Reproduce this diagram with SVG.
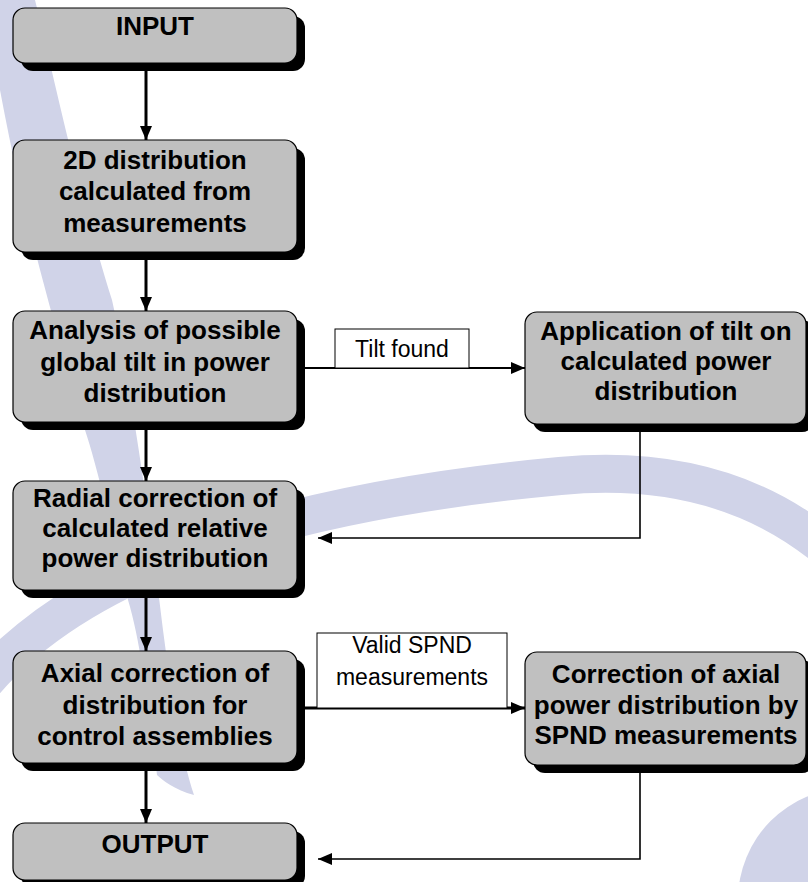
<svg xmlns="http://www.w3.org/2000/svg" width="808" height="882" viewBox="0 0 808 882">
<style>
.bg{fill:#d0d3e8;stroke:none}
.bgs{fill:none;stroke:#d0d3e8;stroke-width:38}
.sh{fill:#000}
.bx{fill:#c0c0c0;stroke:#000;stroke-width:1.2}
.t{font-family:"Liberation Sans",Arial,sans-serif;font-weight:bold;font-size:26px;fill:#000;text-anchor:middle}
.lt{font-family:"Liberation Sans",Arial,sans-serif;font-size:23px;fill:#000;text-anchor:middle}
.lb{fill:#fff;stroke:#000;stroke-width:1}
.c{fill:none;stroke:#000}
</style>
<defs>
<marker id="ah" markerUnits="userSpaceOnUse" markerWidth="14" markerHeight="14" viewBox="0 0 14 14" refX="14" refY="7" orient="auto">
<path d="M0,1 L14,7 L0,13 Z" fill="#000"/>
</marker>
</defs>
<rect width="808" height="882" fill="#fff"/>
<g id="background">
<path class="bg" d="M-25,0 L35,0 C50,60 80,200 112,300 C130,380 150,520 163,630 C172,700 182,760 194,795 C175,790 162,780 157,775 C148,700 140,640 128,600 C110,520 95,460 85,430 C60,340 30,250 0,90 Z"/>
<path class="bgs" d="M-30,700 C60,580 250,505 560,476 C700,463 790,510 850,570"/>
<circle class="bg" cx="850" cy="900" r="112"/>
</g>
<g id="connectors">
<line class="c" x1="146" y1="63" x2="146" y2="140" stroke-width="3" marker-end="url(#ah)"/>
<line class="c" x1="146" y1="252" x2="146" y2="311" stroke-width="3" marker-end="url(#ah)"/>
<line class="c" x1="146" y1="422" x2="146" y2="481" stroke-width="3" marker-end="url(#ah)"/>
<line class="c" x1="146" y1="590" x2="146" y2="651" stroke-width="3" marker-end="url(#ah)"/>
<line class="c" x1="146" y1="763" x2="146" y2="823" stroke-width="3" marker-end="url(#ah)"/>
<line class="c" x1="297" y1="368" x2="525" y2="368" stroke-width="2" marker-end="url(#ah)"/>
<line class="c" x1="297" y1="708" x2="525" y2="708" stroke-width="3" marker-end="url(#ah)"/>
<polyline class="c" points="640,424 640,538 318,538" stroke-width="1.6" marker-end="url(#ah)"/>
<polyline class="c" points="640,765 640,859 318,859" stroke-width="1.6" marker-end="url(#ah)"/>
</g>
<g id="label-tilt">
<rect class="lb" x="335" y="329" width="134" height="39"/>
<text class="lt" x="402" y="357">Tilt found</text>
</g>
<g id="label-spnd">
<rect class="lb" x="317" y="633" width="190" height="75"/>
<text class="lt" x="412" y="653">Valid SPND</text>
<text class="lt" x="412" y="685">measurements</text>
</g>
<g id="n-input">
<rect class="sh" x="21" y="16" width="284" height="55" rx="12"/>
<rect class="bx" x="13" y="8" width="284" height="55" rx="12"/>
<text class="t" x="155" y="35">INPUT</text>
</g>
<g id="n-2d">
<rect class="sh" x="21" y="148" width="284" height="112" rx="12"/>
<rect class="bx" x="13" y="140" width="284" height="112" rx="12"/>
<text class="t" x="155" y="169">2D distribution</text>
<text class="t" x="155" y="200">calculated from</text>
<text class="t" x="155" y="232">measurements</text>
</g>
<g id="n-analysis">
<rect class="sh" x="21" y="319" width="284" height="111" rx="12"/>
<rect class="bx" x="13" y="311" width="284" height="111" rx="12"/>
<text class="t" x="155" y="339">Analysis of possible</text>
<text class="t" x="155" y="371">global tilt in power</text>
<text class="t" x="155" y="402">distribution</text>
</g>
<g id="n-radial">
<rect class="sh" x="21" y="489" width="284" height="109" rx="12"/>
<rect class="bx" x="13" y="481" width="284" height="109" rx="12"/>
<text class="t" x="155" y="507">Radial correction of</text>
<text class="t" x="155" y="537">calculated relative</text>
<text class="t" x="155" y="567">power distribution</text>
</g>
<g id="n-axial">
<rect class="sh" x="21" y="659" width="284" height="112" rx="12"/>
<rect class="bx" x="13" y="651" width="284" height="112" rx="12"/>
<text class="t" x="155" y="682">Axial correction of</text>
<text class="t" x="155" y="714">distribution for</text>
<text class="t" x="155" y="745">control assemblies</text>
</g>
<g id="n-output">
<rect class="sh" x="21" y="831" width="284" height="57" rx="12"/>
<rect class="bx" x="13" y="823" width="284" height="57" rx="12"/>
<text class="t" x="155" y="853">OUTPUT</text>
</g>
<g id="n-tilt">
<rect class="sh" x="533" y="320" width="281" height="112" rx="12"/>
<rect class="bx" x="525" y="312" width="281" height="112" rx="12"/>
<text class="t" x="666" y="340">Application of tilt on</text>
<text class="t" x="666" y="370">calculated power</text>
<text class="t" x="666" y="400">distribution</text>
</g>
<g id="n-spnd">
<rect class="sh" x="533" y="660" width="281" height="113" rx="12"/>
<rect class="bx" x="525" y="652" width="281" height="113" rx="12"/>
<text class="t" x="666" y="683">Correction of axial</text>
<text class="t" x="666" y="714">power distribution by</text>
<text class="t" x="666" y="744">SPND measurements</text>
</g>
</svg>
